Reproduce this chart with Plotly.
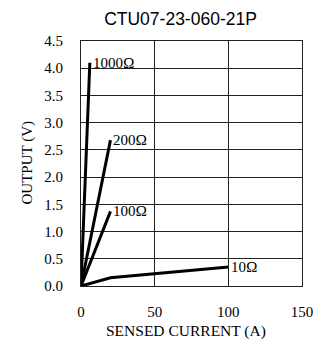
import plotly.graph_objects as go

# Data
series_names = ["1000\u2126", "200\u2126", "100\u2126", "10\u2126"]
x_1000 = [0, 6]
y_1000 = [0, 4.1]
x_200 = [0, 20]
y_200 = [0, 2.68]
x_100 = [0, 20]
y_100 = [0, 1.37]
x_10 = [0, 20, 100]
y_10 = [0, 0.15, 0.35]

x_ticks = [0, 50, 100, 150]
y_ticks = [0.0, 0.5, 1.0, 1.5, 2.0, 2.5, 3.0, 3.5, 4.0, 4.5]

serif = "Liberation Serif, Times New Roman, serif"
sans = "Liberation Sans, Arial, sans-serif"

W, H = 321, 347
L, R, T, B = 81, 19, 41, 61
PW, PH = W - L - R, H - T - B

fig = go.Figure()
for xs, ys in [(x_1000, y_1000), (x_200, y_200), (x_100, y_100), (x_10, y_10)]:
    fig.add_trace(go.Scatter(x=xs, y=ys, mode="lines",
                             line=dict(color="black", width=3),
                             showlegend=False, hoverinfo="skip", cliponaxis=False))

# labels at line ends
label_pts = [(x_1000[-1], y_1000[-1]), (x_200[-1], y_200[-1]),
             (x_100[-1], y_100[-1]), (x_10[-1], y_10[-1])]
for name, (lx, ly) in zip(series_names, label_pts):
    fig.add_annotation(x=lx, y=ly, text=name, showarrow=False,
                       xanchor="left", yanchor="middle", xshift=1,
                       font=dict(family=serif, size=15, color="black"))

# axis titles as annotations for exact placement
fig.add_annotation(text="SENSED CURRENT (A)", xref="paper", yref="paper",
                   x=(185.5 - L) / PW, y=-(331 - (T + PH)) / PH,
                   xanchor="center", yanchor="middle", showarrow=False,
                   font=dict(family=serif, size=15.5, color="black"))
fig.add_annotation(text="OUTPUT (V)", xref="paper", yref="paper",
                   x=-(L - 27) / PW, y=0.5, textangle=-90,
                   xanchor="center", yanchor="middle", showarrow=False,
                   font=dict(family=serif, size=15, color="black"))

fig.update_layout(
    width=W, height=H,
    margin=dict(l=L, r=R, t=T, b=B, autoexpand=False),
    paper_bgcolor="white", plot_bgcolor="white",
    title=dict(text="CTU07-23-060-21P", x=180.5 / W, xanchor="center", xref="container",
               y=1 - 19 / H, yanchor="middle",
               font=dict(family=sans, size=17.5, color="black")),
    xaxis=dict(range=[0, 150], tickvals=x_ticks, ticktext=[str(v) for v in x_ticks],
               showgrid=True, gridcolor="#222", gridwidth=1,
               showline=True, linecolor="#222", linewidth=1, mirror=True,
               zeroline=False, ticks="", ticklabelstandoff=12, automargin=False,
               tickfont=dict(family=serif, size=15, color="black")),
    yaxis=dict(range=[0, 4.5], tickvals=y_ticks, ticktext=[f"{v:.1f}" for v in y_ticks],
               showgrid=True, gridcolor="#222", gridwidth=1,
               showline=True, linecolor="#222", linewidth=1, mirror=True,
               zeroline=False, ticks="", ticklabelstandoff=14, automargin=False,
               tickfont=dict(family=serif, size=15, color="black")),
)

fig.write_html("out.html", config={"displayModeBar": False},
               post_script="document.body.style.margin='0';")
